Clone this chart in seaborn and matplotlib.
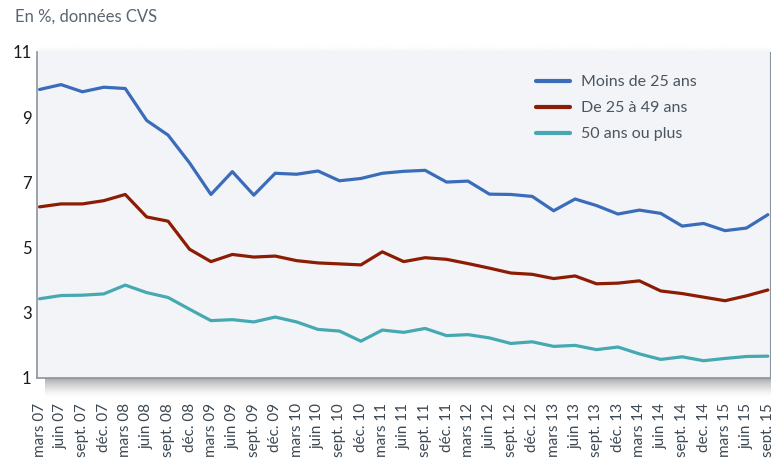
import numpy as np
import pandas as pd
import matplotlib.pyplot as plt
import seaborn as sns

# quarterly labels, mars 07 -> sept. 15
periods = ["mars 07", "juin 07", "sept. 07", "déc. 07",
           "mars 08", "juin 08", "sept. 08", "déc. 08",
           "mars 09", "juin 09", "sept. 09", "déc. 09",
           "mars 10", "juin 10", "sept. 10", "déc. 10",
           "mars 11", "juin 11", "sept. 11", "déc. 11",
           "mars 12", "juin 12", "sept. 12", "déc. 12",
           "mars 13", "juin 13", "sept. 13", "déc. 13",
           "mars 14", "juin 14", "sept. 14", "dec. 14",
           "mars 15", "juin 15", "sept. 15"]

moins_25 = [9.85, 10.0, 9.78, 9.92, 9.88, 8.90, 8.45, 7.60, 6.63, 7.33,
            6.61, 7.28, 7.25, 7.35, 7.05, 7.12, 7.28, 7.34, 7.37, 7.01,
            7.04, 6.64, 6.63, 6.57, 6.13, 6.49, 6.29, 6.03, 6.15, 6.05,
            5.66, 5.74, 5.52, 5.60, 6.01]
de_25_49 = [6.25, 6.34, 6.34, 6.44, 6.63, 5.94, 5.81, 4.95, 4.57, 4.79,
            4.71, 4.74, 4.60, 4.53, 4.50, 4.47, 4.87, 4.57, 4.69, 4.64,
            4.51, 4.37, 4.22, 4.18, 4.05, 4.13, 3.89, 3.91, 3.98, 3.67,
            3.59, 3.48, 3.37, 3.52, 3.70]
plus_50 = [3.43, 3.53, 3.54, 3.58, 3.85, 3.62, 3.47, 3.11, 2.76, 2.79,
           2.72, 2.87, 2.72, 2.49, 2.44, 2.13, 2.47, 2.40, 2.52, 2.30,
           2.33, 2.23, 2.06, 2.11, 1.97, 2.00, 1.87, 1.95, 1.74, 1.57,
           1.65, 1.53, 1.60, 1.66, 1.67]

series = {"Moins de 25 ans": moins_25,
          "De 25 à 49 ans": de_25_49,
          "50 ans ou plus": plus_50}
colors = ["#3b6cba", "#8c1c03", "#46a9b1"]

df = pd.concat([pd.DataFrame({"t": range(len(periods)), "val": v, "groupe": k})
                for k, v in series.items()])

sns.set_style("white")
plt.rcParams['font.family'] = ['Lato', 'DejaVu Sans']

fig = plt.figure(figsize=(7.71, 4.59), dpi=100)

# soft shadows around the panel
x0, x1 = 37 / 771, 770 / 771
y_bot, y_top = 1 - 378 / 459, 1 - 52 / 459
grad = np.linspace(0, 1, 50).reshape(-1, 1)
sh = fig.add_axes([x0 + 0.01, y_bot - 20 / 459, x1 - x0 - 0.01, 20 / 459], zorder=-2)
sh.imshow(np.dstack([np.full((50, 1, 3), 0.45), (grad ** 1.5 * 0.6)]),
          aspect="auto", extent=[0, 1, 0, 1], origin="lower")
sh.axis("off")
sh2 = fig.add_axes([x0, y_top, x1 - x0, 8 / 459], zorder=-2)
sh2.imshow(np.dstack([np.full((50, 1, 3), 0.6), ((1 - grad) ** 2 * 0.12)]),
           aspect="auto", extent=[0, 1, 0, 1], origin="lower")
sh2.axis("off")

ax = fig.add_axes([x0, y_bot, x1 - x0, y_top - y_bot])
ax.set_facecolor("#f2f4f7")

sns.lineplot(data=df, x="t", y="val", hue="groupe", palette=colors,
             linewidth=2.3, ax=ax)

ax.set_xlim(-0.12, len(periods) - 0.9)
ax.set_ylim(1, 11)
ax.set_yticks([1, 3, 5, 7, 9, 11])
ax.set_xticks(range(len(periods)))
ax.set_xticklabels(periods, rotation=90, fontsize=11, color="#3d4852")
ax.tick_params(axis="y", labelsize=12, colors="#1a1a1a", length=3,
               color="#8a949e", pad=1)
ax.tick_params(axis="x", length=3, color="#8a949e", pad=15)
ax.set_xlabel("")
ax.set_ylabel("")

for s in ["left", "bottom", "right"]:
    ax.spines[s].set_color("#8a949e")
    ax.spines[s].set_linewidth(1.2)
ax.spines["right"].set_linewidth(0.8)
ax.spines["top"].set_visible(False)

leg = ax.legend(loc="upper left", bbox_to_anchor=(528 / 771, 1 - 67 / 459),
                bbox_transform=fig.transFigure, frameon=False, fontsize=11.5,
                handlelength=2.1, handletextpad=0.7, labelspacing=0.75,
                borderpad=0)
for t in leg.get_texts():
    t.set_color("#4a5560")
for h in leg.get_lines():
    h.set_linewidth(3)

fig.text(15 / 771, 1 - 22 / 459, "En %, données CVS", fontsize=12,
         color="#5a6570", va="baseline")

fig.savefig("out.png", dpi=100)
